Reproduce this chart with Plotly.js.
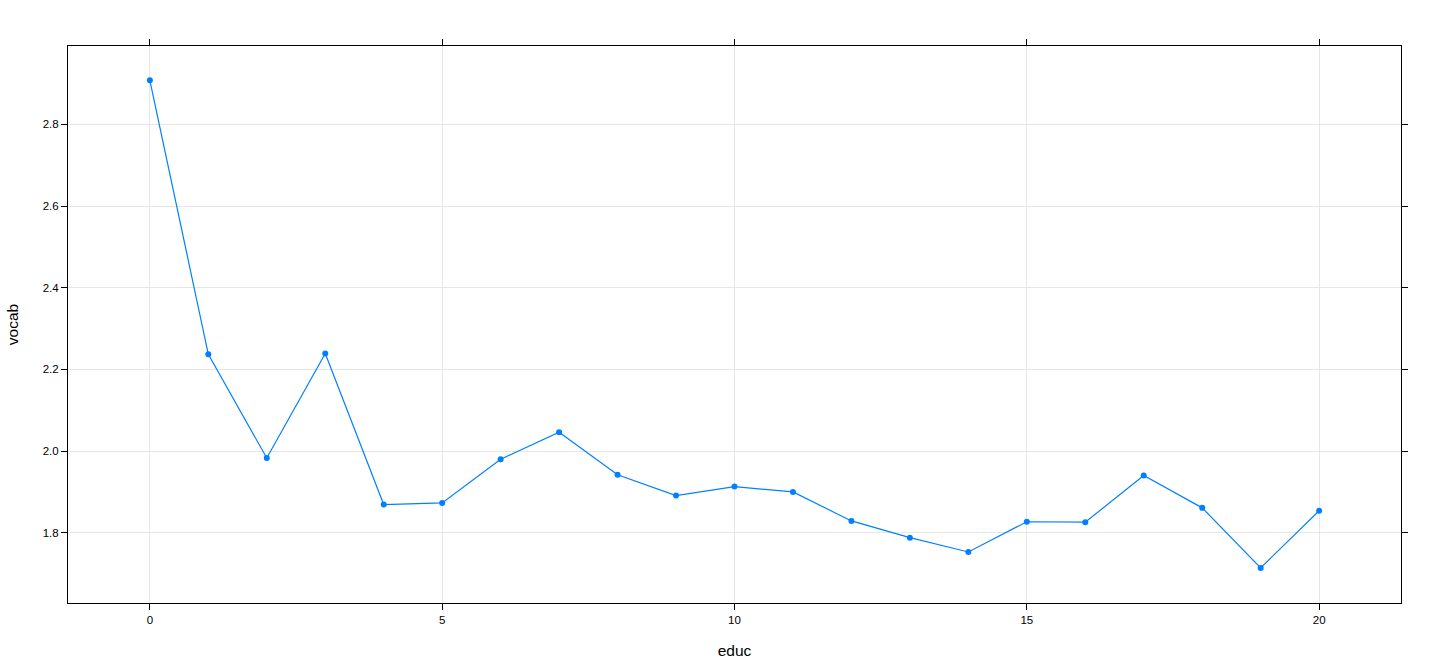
<!DOCTYPE html>
<html>
<head>
<meta charset="utf-8">
<script src="https://cdn.plot.ly/plotly-3.0.1.min.js"></script>
<style>
  html, body { margin: 0; padding: 0; background: #fff; }
  #plot { width: 1440px; height: 672px; }
</style>
</head>
<body>
<div id="plot"></div>
<script>
// educ vs mean vocab
var educ = [0, 1, 2, 3, 4, 5, 6, 7, 8, 9, 10, 11, 12, 13, 14, 15, 16, 17, 18, 19, 20];
var vocab = [2.908, 2.237, 1.983, 2.239, 1.869, 1.873, 1.980, 2.046, 1.942, 1.891,
             1.913, 1.900, 1.829, 1.788, 1.753, 1.827, 1.826, 1.940, 1.861, 1.714, 1.854];
var xTicks = [0, 5, 10, 15, 20];
var yTicks = [1.8, 2.0, 2.2, 2.4, 2.6, 2.8];

var trace = {
    x: educ,
    y: vocab,
    type: 'scatter',
    mode: 'lines+markers',
    line: { color: '#0080ff', width: 1.2 },
    marker: { color: '#0080ff', size: 6 },
    hoverinfo: 'x+y'
};

var axisCommon = {
    showline: true,
    linecolor: '#000',
    linewidth: 1,
    mirror: 'ticks',
    ticks: 'outside',
    ticklen: 6,
    tickcolor: '#000',
    tickwidth: 1,
    showgrid: true,
    gridcolor: '#e6e6e6',
    gridwidth: 1,
    zeroline: false,
    tickfont: { family: 'Liberation Sans, Arial, sans-serif', size: 11.5, color: '#000' }
};

var layout = {
    width: 1440,
    height: 672,
    margin: { l: 68, r: 39, t: 46, b: 69 },
    paper_bgcolor: '#fff',
    plot_bgcolor: '#fff',
    showlegend: false,
    font: { family: 'Liberation Sans, Arial, sans-serif', color: '#000' },
    xaxis: Object.assign({}, axisCommon, {
        range: [-1.4, 21.4],
        tickvals: xTicks,
        ticktext: xTicks.map(String),
        title: { text: 'educ', font: { size: 15.5 }, standoff: 20 }
    }),
    yaxis: Object.assign({}, axisCommon, {
        range: [1.628, 2.992],
        tickvals: yTicks,
        ticktext: yTicks.map(function (v) { return v.toFixed(1); }),
        title: { text: 'vocab', font: { size: 15.5 }, standoff: 20 }
    })
};

Plotly.newPlot('plot', [trace], layout, { displayModeBar: false, staticPlot: true });
</script>
</body>
</html>
